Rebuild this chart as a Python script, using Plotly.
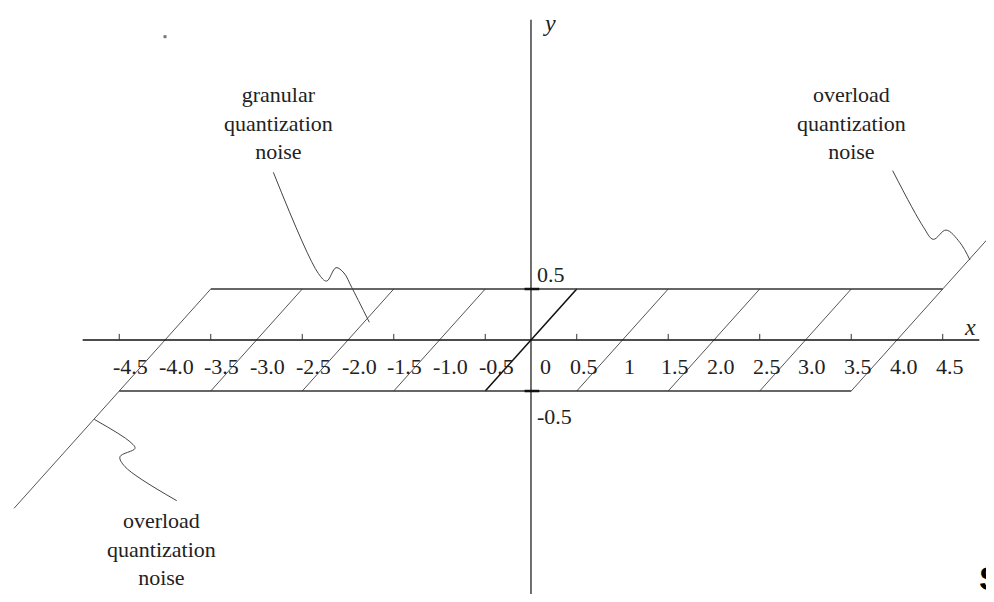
import plotly.graph_objects as go

# quantization levels: the sawtooth error crosses zero at each of them
levels = [-4, -3, -2, -1, 0, 1, 2, 3, 4]
half_step = 0.5

# ticks on the x axis and the labels written under it
tick_x = [-4.5, -3.5, -2.5, -1.5, -0.5, 0.5, 1.5, 2.5, 3.5, 4.5]
label_vals = [-4.5, -4.0, -3.5, -3.0, -2.5, -2.0, -1.5, -1.0, -0.5,
              0, 0.5, 1, 1.5, 2.0, 2.5, 3.0, 3.5, 4.0, 4.5]
label_text = ["-4.5", "-4.0", "-3.5", "-3.0", "-2.5", "-2.0", "-1.5", "-1.0", "-0.5",
              "0", "0.5", "1", "1.5", "2.0", "2.5", "3.0", "3.5", "4.0", "4.5"]
ytick_vals = [0.5, -0.5]
ytick_text = ["0.5", "-0.5"]

# where the overload lines run out
overload_lo = -5.65
overload_hi = 5.2

# hand drawn leader curves
granular_x = [-2.816, -2.325, -2.233, -2.131, -2.044, -1.960, -1.767]
granular_y = [1.644, 0.654, 0.578, 0.709, 0.657, 0.517, 0.174]
over_hi_x = [3.953, 4.287, 4.397, 4.536, 4.689, 4.798]
over_hi_y = [1.660, 1.111, 0.987, 1.078, 0.954, 0.784]
over_lo_x = [-4.773, -4.383, -4.328, -4.492, -4.437, -3.872]
over_lo_y = [-0.778, -0.997, -1.062, -1.144, -1.242, -1.575]

SERIF = "Liberation Serif"
INK = "#222222"

fig = go.Figure()


def seg(x, y, color="#333333", width=1.0, dash="solid"):
    fig.add_trace(go.Scatter(x=x, y=y, mode="lines", hoverinfo="skip",
                             line=dict(color=color, width=width, dash=dash, shape="linear")))


# sawtooth segments, the one through the origin drawn heavier
sx, sy = [], []
for n in levels:
    if n == 0:
        continue
    sx += [n - half_step, n + half_step, None]
    sy += [-half_step, half_step, None]
seg(sx, sy, color="#555555", width=1.0)
seg([-half_step, half_step], [-half_step, half_step], color="#111111", width=1.6)

# overload parts
lo_n, hi_n = levels[0], levels[-1]
seg([overload_lo, lo_n - half_step], [overload_lo - lo_n, -half_step], color="#555555", width=1.0)
seg([hi_n + half_step, overload_hi], [half_step, overload_hi - hi_n], color="#555555", width=1.0)

# envelope lines at +-half step
seg([levels[1] - half_step, hi_n + half_step], [half_step, half_step], color="#333333", width=1.5)
seg([lo_n - half_step, levels[-2] + half_step], [-half_step, -half_step], color="#333333", width=1.5)

# axes
seg([-4.9, 4.9], [0, 0], color="#111111", width=1.5)
seg([0, 0], [-2.7, 3.14], color="#111111", width=1.2)

# x ticks
tx, ty = [], []
for t in tick_x:
    tx += [t, t, None]
    ty += [0, 0.06, None]
seg(tx, ty, color="#333333", width=1.0)

# y ticks
yx, yy = [], []
for v in ytick_vals:
    yx += [-0.07, 0.09, None]
    yy += [v, v, None]
seg(yx, yy, color="#111111", width=2.5)

# leader curves
for cx, cy in [(granular_x, granular_y), (over_hi_x, over_hi_y), (over_lo_x, over_lo_y)]:
    fig.add_trace(go.Scatter(x=cx, y=cy, mode="lines", hoverinfo="skip",
                             line=dict(color="#444444", width=1.0, shape="spline")))

# stray speck from the scan
fig.add_trace(go.Scatter(x=[-4.0], y=[2.974], mode="markers", hoverinfo="skip",
                         marker=dict(symbol="square", size=3, color="#777777")))

ann = []
for v, t in zip(label_vals, label_text):
    shift = 11 if v < 0 else (15 if v == 0 else 7)
    ann.append(dict(x=v, y=-0.255, text=t, xshift=shift, showarrow=False,
                    font=dict(family=SERIF, size=22, color=INK)))
for v, t, sx_ in zip(ytick_vals, ytick_text, [0.224, 0.262]):
    ann.append(dict(x=sx_, y=v + (0.147 if v > 0 else -0.252), text=t, showarrow=False,
                    font=dict(family=SERIF, size=22, color=INK)))

ann.append(dict(x=0.2, y=3.105, text="<i>y</i>", showarrow=False,
                font=dict(family=SERIF, size=24, color=INK)))
ann.append(dict(x=4.798, y=0.13, text="<i>x</i>", showarrow=False,
                font=dict(family=SERIF, size=24, color=INK)))

block = "%s<br>quantization<br>noise"
ann.append(dict(x=-2.765, y=2.124, text=block % "granular", showarrow=False,
                font=dict(family=SERIF, size=22, color=INK)))
ann.append(dict(x=3.508, y=2.124, text=block % "overload", showarrow=False,
                font=dict(family=SERIF, size=22, color=INK)))
ann.append(dict(x=-4.036, y=-2.049, text=block % "overload", showarrow=False,
                font=dict(family=SERIF, size=22, color=INK)))

# cut-off letter at the right edge of the scan
ann.append(dict(x=4.88, y=-2.33, text="<b>S</b>", xanchor="left", showarrow=False,
                font=dict(family="Liberation Sans", size=34, color="#000000")))

# the page body adds 8px of margin all round; keep the figure inside the window
fig.update_layout(width=978, height=586, margin=dict(l=0, r=0, t=0, b=0),
                  paper_bgcolor="white", plot_bgcolor="white", showlegend=False,
                  hovermode=False, annotations=ann,
                  xaxis=dict(visible=False, range=[-5.716, 4.973], fixedrange=True),
                  yaxis=dict(visible=False, range=[-2.490, 3.255], fixedrange=True))

fig.write_html("out.html")
